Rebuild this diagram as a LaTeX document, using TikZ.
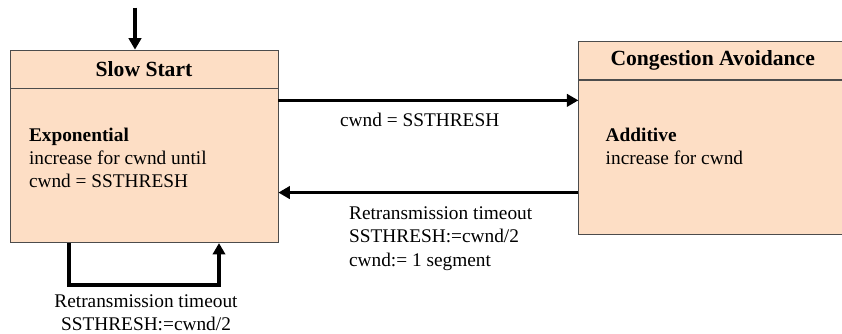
\documentclass[tikz,border=0pt]{standalone}
\usepackage{fontspec}
\setmainfont{Liberation Serif}
\usetikzlibrary{arrows.meta,positioning,calc}

\definecolor{peach}{RGB}{253,222,197}

\begin{document}
\begin{tikzpicture}[
    font=\fontsize{11}{13.3}\selectfont,
    >={Triangle[length=6.5pt,width=7pt]},
    % --- node styles ---
    head/.style = {rectangle, draw=black!70, fill=peach,
                   minimum width=5.36cm, minimum height=0.76cm,
                   inner sep=0pt,
                   font=\fontsize{12.3}{14}\selectfont\bfseries},
    body/.style = {rectangle, draw=black!70, fill=peach,
                   minimum width=5.36cm, minimum height=3.08cm,
                   inner sep=0pt},
    bodytxt/.style = {align=left, inner sep=0pt, anchor=north west},
    lbl/.style  = {align=left, inner sep=0pt, anchor=north west},
    arrow/.style = {->, line width=2pt},
]

\useasboundingbox (0,0) rectangle (16.84,-6.66);

%============ STATES ============
\node (ssHead) [head] at (2.88,-1.38) {Slow Start};
\node (ssBody) [body, below=0pt of ssHead] {};

\node (caHead) [head, right=6cm of ssHead, yshift=0.17cm] {Congestion Avoidance};
\node (caBody) [body, below=0pt of caHead] {};

%============ STATE TEXTS ============
\node (ssText) [bodytxt] at ($(ssBody.north west)+(0.38,-0.78)$)
  {\textbf{Exponential}\\increase for cwnd until\\cwnd = SSTHRESH};

\node (caText) [bodytxt] at ($(caBody.north west)+(0.54,-0.96)$)
  {\textbf{Additive}\\increase for cwnd};

%============ TRANSITIONS ============
% initial arrow
\coordinate (init) at ($(ssHead.north)+(-0.18,0.84)$);
\draw[arrow] (init) -- (init |- ssHead.north);

% slow start -> congestion avoidance
\coordinate (fwdStart) at ($(ssHead.south east)+(0,-0.24)$);
\draw[arrow] (fwdStart) -- (fwdStart -| caBody.west)
  node[lbl, pos=0, xshift=1.2cm, yshift=-0.22cm] {cwnd = SSTHRESH};

% congestion avoidance -> slow start
\coordinate (backStart) at ($(caBody.south west)+(0,0.84)$);
\draw[arrow] (backStart) -- (backStart -| ssBody.east)
  node[lbl, pos=1, xshift=1.38cm, yshift=-0.25cm]
  {Retransmission timeout\\SSTHRESH:=cwnd/2\\cwnd:= 1 segment};

% self loop on slow start
\draw[arrow] ($(ssBody.south)+(-1.5,0)$) -- ++(0,-0.84) -| ($(ssBody.south)+(1.5,0)$);
\node (loopLbl) [align=center, inner sep=0pt, anchor=north]
  at ($(ssBody.south)+(0.04,-1.02)$)
  {Retransmission timeout\\SSTHRESH:=cwnd/2};

\end{tikzpicture}
\end{document}
